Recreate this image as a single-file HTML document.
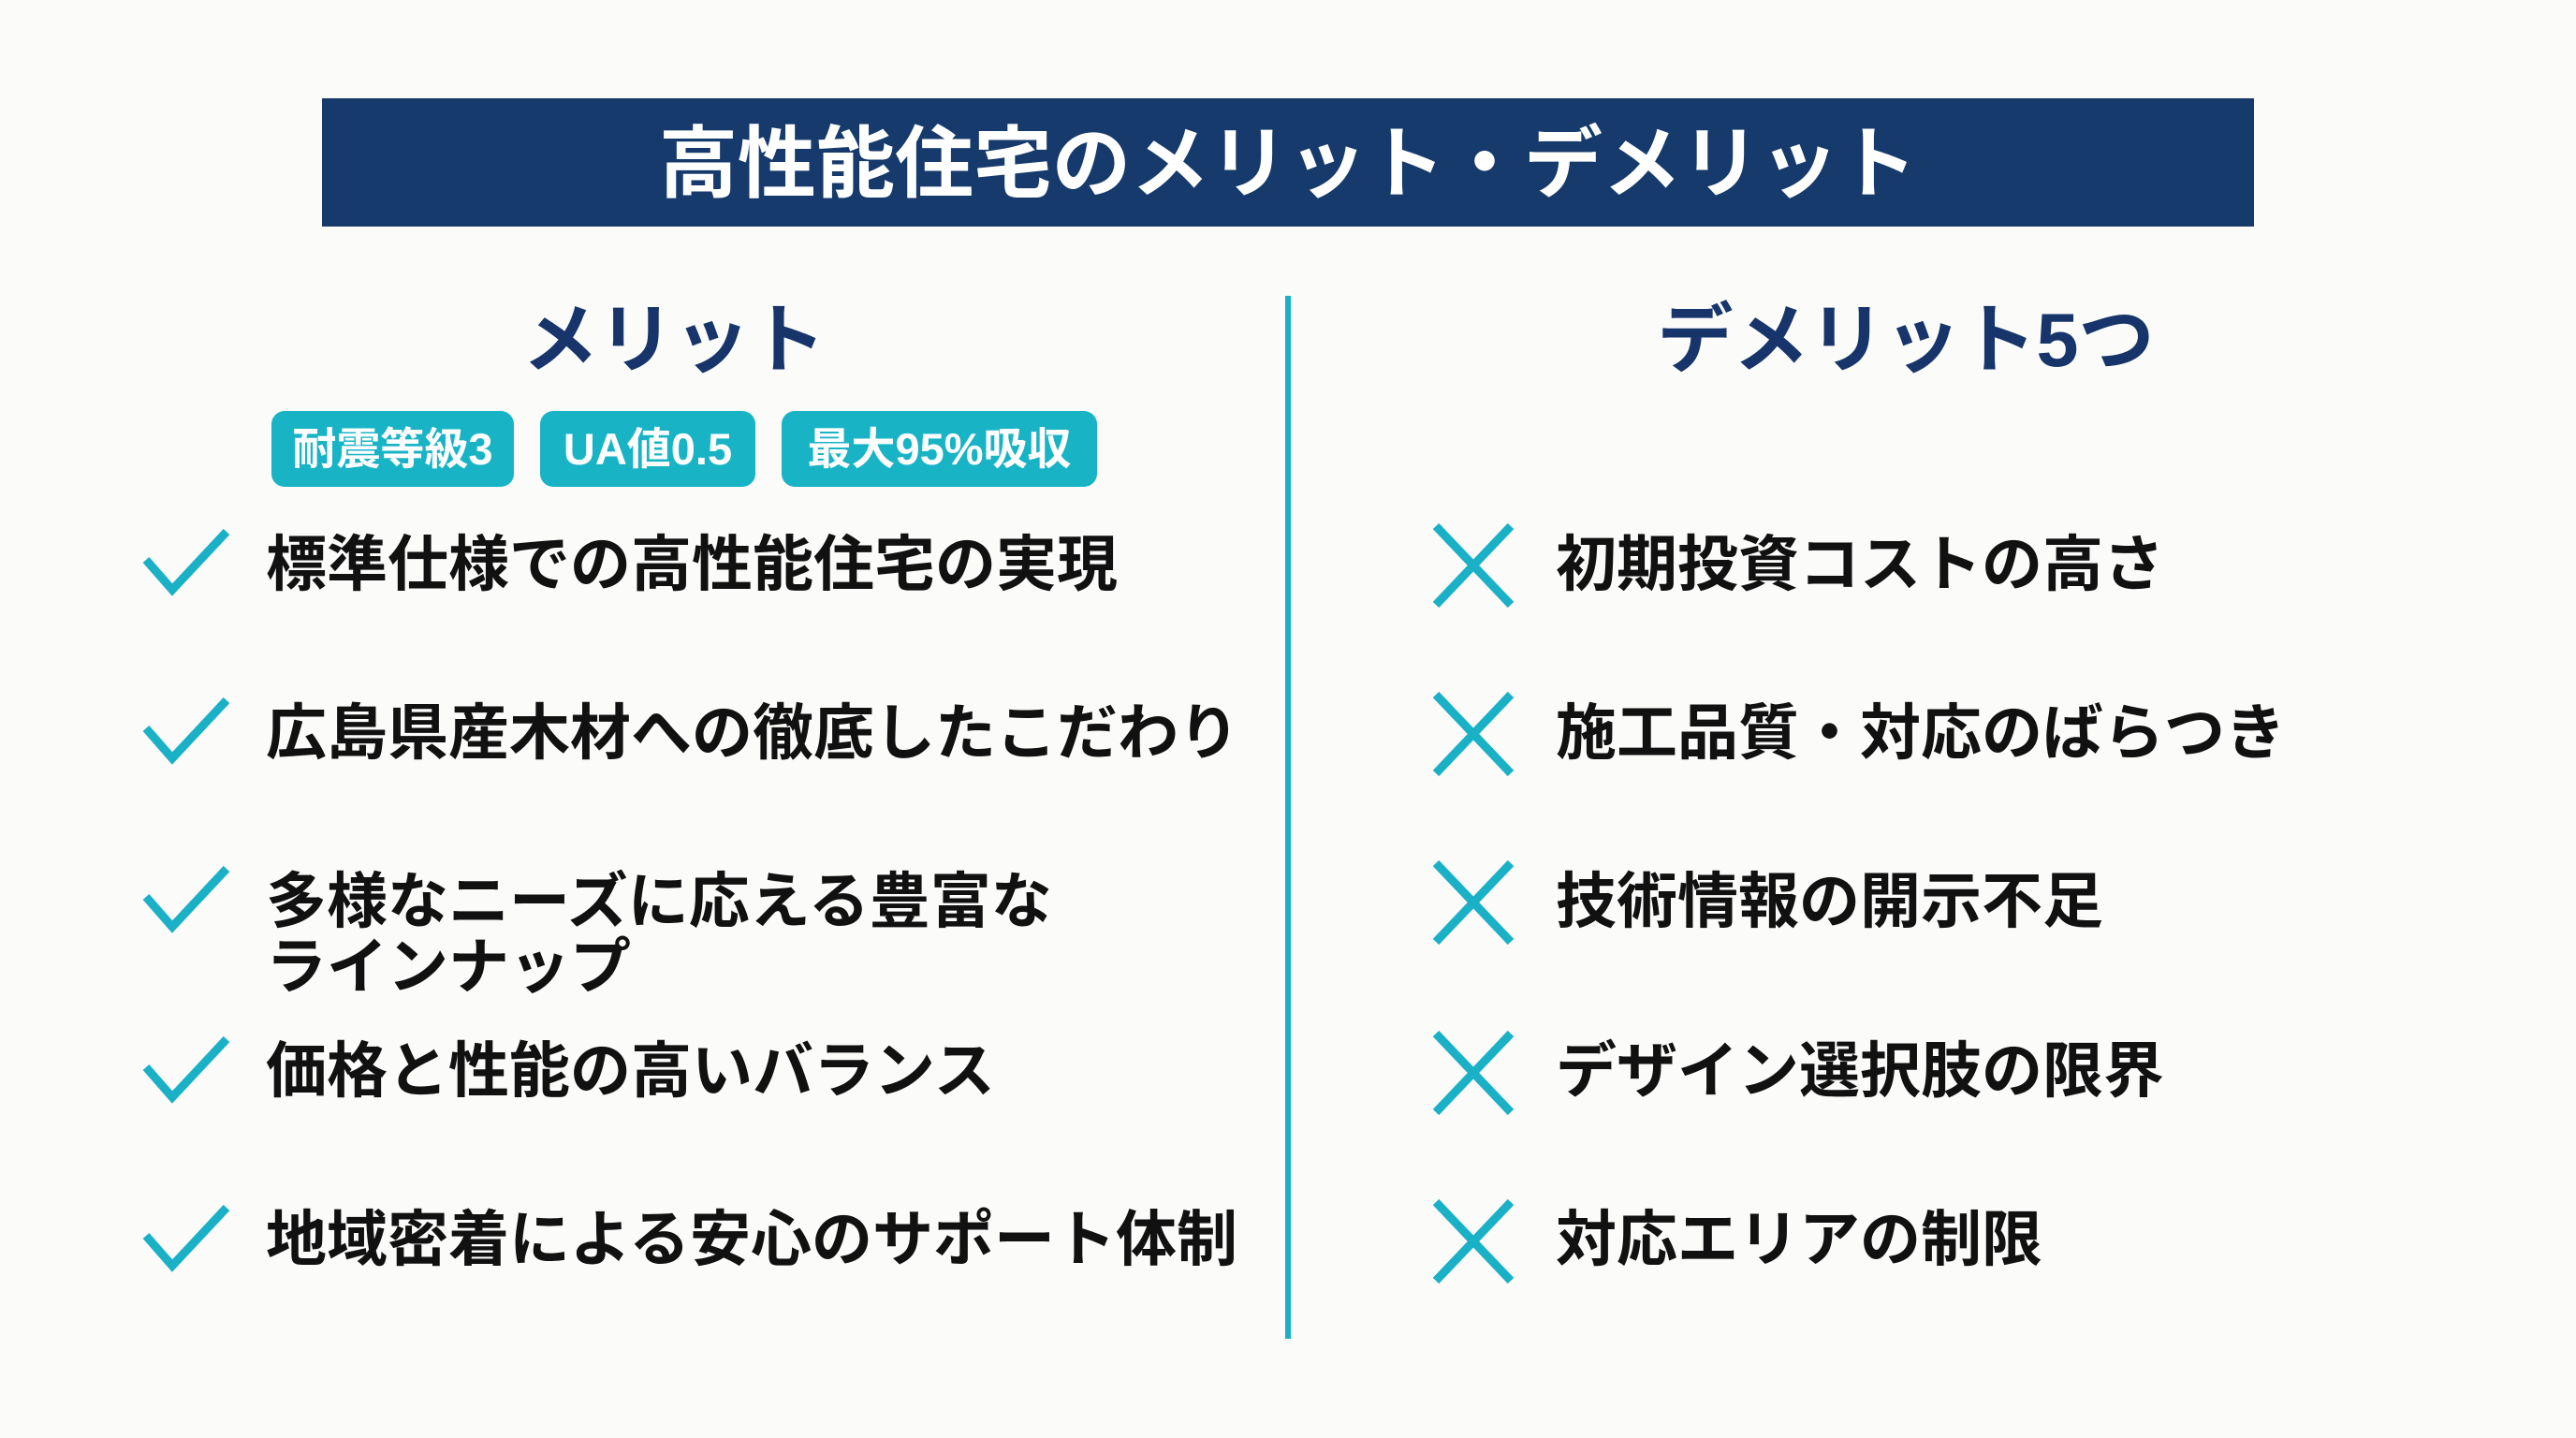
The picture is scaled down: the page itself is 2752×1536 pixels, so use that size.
<!DOCTYPE html>
<html><head><meta charset="utf-8"><style>
html,body{margin:0;padding:0}
body{width:2752px;height:1536px;background:#fbfbfa;position:relative;overflow:hidden;font-family:"Liberation Sans","Noto Sans CJK JP",sans-serif;}
.abs{position:absolute}
.bar{left:344px;top:105px;width:2064px;height:137px;background:#163a6c;color:#fff;font-size:84px;font-weight:bold;text-align:center;line-height:141px;}
.head{color:#17356a;font-size:81px;font-weight:bold;line-height:1;white-space:nowrap;transform:translateX(-50%)}
.div{left:1373px;top:316px;width:6px;height:1114px;background:#1ab1c7}
.badge{top:439px;height:81px;background:#18b4c6;color:#fff;border-radius:14px;font-size:47px;font-weight:bold;line-height:81px;text-align:center}
.item{font-size:65px;font-weight:bold;color:#111;line-height:70px;white-space:nowrap}
svg{position:absolute}
</style></head><body>
<div class="abs bar">高性能住宅のメリット・デメリット</div>
<div class="abs div"></div>
<div class="abs head" style="left:720px;top:324px">メリット</div>
<div class="abs head" style="left:2036px;top:324px">デメリット5つ</div>
<div class="abs badge" style="left:290px;width:259px">耐震等級3</div>
<div class="abs badge" style="left:577px;width:230px">UA値0.5</div>
<div class="abs badge" style="left:835px;width:337px">最大95%吸収</div>

<svg style="left:150px;top:560px" width="100" height="80"><polyline points="6,38 34,70 92,8" fill="none" stroke="#1ab1c7" stroke-width="9"/></svg>
<div class="abs item" style="left:284px;top:568px">標準仕様での高性能住宅の実現</div>
<svg style="left:150px;top:740px" width="100" height="80"><polyline points="6,38 34,70 92,8" fill="none" stroke="#1ab1c7" stroke-width="9"/></svg>
<div class="abs item" style="left:284px;top:748px">広島県産木材への徹底したこだわり</div>
<svg style="left:150px;top:920px" width="100" height="80"><polyline points="6,38 34,70 92,8" fill="none" stroke="#1ab1c7" stroke-width="9"/></svg>
<div class="abs item" style="left:284px;top:928px">多様なニーズに応える豊富な<br>ラインナップ</div>
<svg style="left:150px;top:1102px" width="100" height="80"><polyline points="6,38 34,70 92,8" fill="none" stroke="#1ab1c7" stroke-width="9"/></svg>
<div class="abs item" style="left:284px;top:1109px">価格と性能の高いバランス</div>
<svg style="left:150px;top:1282px" width="100" height="80"><polyline points="6,38 34,70 92,8" fill="none" stroke="#1ab1c7" stroke-width="9"/></svg>
<div class="abs item" style="left:284px;top:1289px">地域密着による安心のサポート体制</div>

<svg style="left:1530px;top:558px" width="88" height="92"><path d="M4,4 L84,88 M84,4 L4,88" stroke="#1ab1c7" stroke-width="9"/></svg>
<div class="abs item" style="left:1662px;top:568px">初期投資コストの高さ</div>
<svg style="left:1530px;top:738px" width="88" height="92"><path d="M4,4 L84,88 M84,4 L4,88" stroke="#1ab1c7" stroke-width="9"/></svg>
<div class="abs item" style="left:1662px;top:748px">施工品質・対応のばらつき</div>
<svg style="left:1530px;top:918px" width="88" height="92"><path d="M4,4 L84,88 M84,4 L4,88" stroke="#1ab1c7" stroke-width="9"/></svg>
<div class="abs item" style="left:1662px;top:928px">技術情報の開示不足</div>
<svg style="left:1530px;top:1100px" width="88" height="92"><path d="M4,4 L84,88 M84,4 L4,88" stroke="#1ab1c7" stroke-width="9"/></svg>
<div class="abs item" style="left:1662px;top:1109px">デザイン選択肢の限界</div>
<svg style="left:1530px;top:1280px" width="88" height="92"><path d="M4,4 L84,88 M84,4 L4,88" stroke="#1ab1c7" stroke-width="9"/></svg>
<div class="abs item" style="left:1662px;top:1289px">対応エリアの制限</div>
</body></html>
